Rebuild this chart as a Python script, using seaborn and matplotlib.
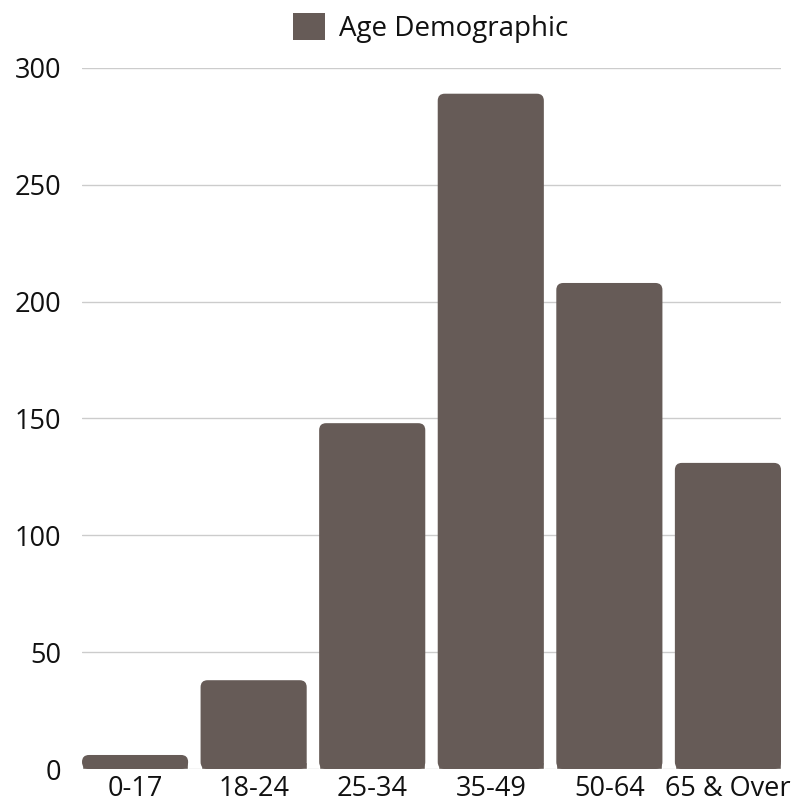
import matplotlib
matplotlib.use("Agg")
import matplotlib.pyplot as plt
import seaborn as sns
import pandas as pd
from matplotlib.patches import FancyBboxPatch, Patch

categories = ["0-17", "18-24", "25-34", "35-49", "50-64", "65 & Over"]
values = [6, 38, 148, 289, 208, 131]
series_name = "Age Demographic"
yticks = [0, 50, 100, 150, 200, 250, 300]

color = "#665B57"
bar_w = 0.895

sns.set_theme(style="white")
plt.rcParams["font.family"] = ["Open Sans", "DejaVu Sans"]

df = pd.DataFrame({"cat": categories, "val": values})

fig = plt.figure(figsize=(8.09, 8.05), dpi=100)
ax_w_px, ax_h_px = 699, 701
ax = fig.add_axes([82 / 809, 36 / 805, ax_w_px / 809, ax_h_px / 805])

sns.barplot(data=df, x="cat", y="val", color=color, saturation=1, width=bar_w, ax=ax, zorder=3)

ax.set_xlim(-bar_w / 2, len(categories) - 1 + bar_w / 2)
ax.set_ylim(0, 300)

# Replace bars with top-rounded versions
px_per_x = ax_w_px / (len(categories) - 1 + bar_w)
px_per_y = ax_h_px / 300
r_px = 7
for p in list(ax.patches):
    x0, y0 = p.get_x(), p.get_y()
    w, h = p.get_width(), p.get_height()
    rad = r_px / px_per_x
    fb = FancyBboxPatch((x0, y0), w, h,
                        boxstyle=f"round,pad=0,rounding_size={rad}",
                        mutation_aspect=px_per_x / px_per_y,
                        facecolor=color, edgecolor="none", zorder=3)
    p.set_height(min(h, r_px / px_per_y))
    ax.add_patch(fb)

ax.set_yticks(yticks)
ax.set_yticklabels([str(v) for v in yticks])
ax.grid(axis="y", color="#cccccc", linewidth=1, zorder=0)
ax.grid(axis="x", visible=False)
for s in ax.spines.values():
    s.set_visible(False)
ax.tick_params(axis="y", length=0, pad=15, labelsize=19.5, labelcolor="#111111")
ax.tick_params(axis="x", length=0, pad=4, labelsize=19.5, labelcolor="#111111")
ax.set_xlabel("")
ax.set_ylabel("")

handle = Patch(facecolor=color, edgecolor="none")
fig.legend([handle], [series_name], loc="center", bbox_to_anchor=(431 / 809, 1 - 28 / 805),
           frameon=False, fontsize=20, handlelength=1.15, handleheight=1.15,
           handletextpad=0.5, labelcolor="#111111")

fig.savefig("out.png", dpi=100)
